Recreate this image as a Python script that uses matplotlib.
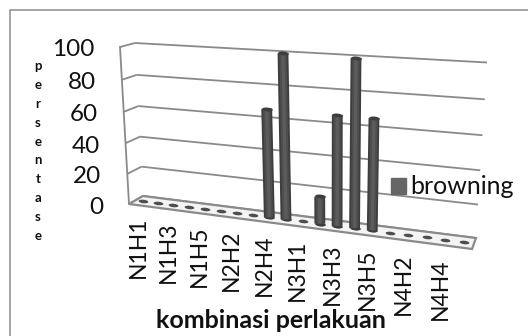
import numpy as np
import matplotlib
matplotlib.use("Agg")
import matplotlib.pyplot as plt
from matplotlib.transforms import Transform
from matplotlib.path import Path
from matplotlib.markers import MarkerStyle
from matplotlib.patches import Patch, Rectangle, Polygon
from matplotlib.transforms import Affine2D

categories = [f"N{n}H{h}" for n in (1, 2, 3, 4) for h in (1, 2, 3, 4, 5)]
browning = [0, 0, 0, 0, 0, 0, 0, 0, 67, 100, 0, 17, 67, 100, 67, 0, 0, 0, 0, 0]
y_ticks = [0, 20, 40, 60, 80, 100]
y_title = "persentase"
x_title = "kombinasi perlakuan"
series_name = "browning"

plt.rcParams["font.family"] = ["Lato", "DejaVu Sans"]


class Homography(Transform):
    input_dims = output_dims = 2
    is_separable = False
    has_inverse = False

    def __init__(self, src, dst):
        super().__init__()
        A, b = [], []
        for (x, y), (u, v) in zip(src, dst):
            A.append([x, y, 1, 0, 0, 0, -u * x, -u * y]); b.append(u)
            A.append([0, 0, 0, x, y, 1, -v * x, -v * y]); b.append(v)
        self.m = np.append(np.linalg.solve(np.array(A, float), np.array(b, float)), 1).reshape(3, 3)

    def transform_non_affine(self, values):
        v = np.asarray(values, float)
        p = np.c_[v, np.ones(len(v))] @ self.m.T
        return p[:, :2] / p[:, 2:]


fig = plt.figure(figsize=(5.28, 3.36), dpi=100)
ax = fig.add_axes([0, 0, 1, 1])
ax.set_xlim(0, 528)
ax.set_ylim(336, 0)
ax.set_autoscale_on(False)
ax.axis("off")

# plane of the columns, back wall and side wall (category/value -> picture)
bar_h = Homography([(0, 0), (19, 0), (9, 100), (13, 100)],
                   [(143, 201), (464, 242), (283, 53), (356, 58)])
wall_h = Homography([(0, 0), (1, 0), (0, 100), (1, 100)],
                    [(143, 196), (476, 238), (135, 43), (487, 62.5)])
side_h = Homography([(0, 0), (1, 0), (0, 100), (1, 100)],
                    [(129, 204), (143, 196), (120, 47), (135, 43)])
bar_t = bar_h + ax.transData
wall_t = wall_h + ax.transData
side_t = side_h + ax.transData

GRID = "#8a8a8a"
ax.add_patch(Rectangle((9.5, 10), 560, 400, fc="white", ec="#969696", lw=1.2, zorder=0))

for v in y_ticks:
    ax.plot([0, 1], [v, v], color=GRID, lw=1.3, transform=wall_t, zorder=1, solid_capstyle="butt")
    ax.plot([0, 1], [v, v], color=GRID, lw=1.3, transform=side_t, zorder=1, solid_capstyle="butt")
ax.plot([0, 0], [0, 100], color=GRID, lw=1.3, transform=side_t, zorder=1)

# floor
ax.add_patch(Polygon([(129, 204), (143, 196), (476, 238), (472, 249)], closed=True,
                     fc="#f4f4f4", ec=GRID, lw=1.6, zorder=2))

x = np.arange(len(categories))
vals = np.array(browning, float)
ell = Path.unit_circle().transformed(Affine2D().scale(1, 0.36).rotate_deg(-6))
mark = MarkerStyle(ell)

ax.scatter(x, np.zeros_like(vals), s=50, marker=mark, color="#4e4e4e", lw=0,
           transform=bar_t, zorder=3)
mask = vals > 0
ax.vlines(x[mask], 0, vals[mask], colors="#3e3e3e", lw=7.8, transform=bar_t, zorder=4, capstyle="butt")
ax.vlines(x[mask], 0, vals[mask], colors="#4e4e4e", lw=5.2, transform=bar_t, zorder=5, capstyle="butt")
ax.vlines(x[mask], 0, vals[mask], colors="#5c5c5c", lw=2.4, transform=bar_t, zorder=6, capstyle="butt")
ax.scatter(x[mask], vals[mask], s=60, marker=mark, color="#3e3e3e", lw=0, transform=bar_t, zorder=7)
ax.scatter(x[mask], np.zeros(mask.sum()), s=60, marker=mark, color="#3e3e3e", lw=0, transform=bar_t, zorder=4)

# value labels
for v in y_ticks:
    px, py = side_h.transform([[0, v]])[0]
    ax.text(px - 26, py + 3, str(v), ha="right", va="center", fontsize=17.5, color="#111111")

# category labels, every second one
pts = bar_h.transform(np.c_[x, np.zeros_like(x)])
for i in x[::2]:
    ax.text(pts[i, 0] - 5, pts[i, 1] + 16 + i * 0.17, categories[i], rotation=90,
            ha="center", va="top", fontsize=16.5, color="#111111")

for k, ch in enumerate(y_title):
    ax.text(38, 66 + k * 18.9, ch, ha="center", va="center", fontsize=9.5,
            fontweight="bold", color="#111111")

ax.text(271, 320, x_title, ha="center", va="center", fontsize=18, fontweight="bold", color="#111111")

ax.legend(handles=[Patch(color="#666666", label=series_name)], loc="center left",
          bbox_to_anchor=(378 / 528, 1 - 187 / 336), frameon=False, fontsize=18,
          handlelength=0.6, handleheight=0.6, handletextpad=0.2, borderpad=0, labelcolor="#111111")

fig.savefig("out.png", dpi=100)
